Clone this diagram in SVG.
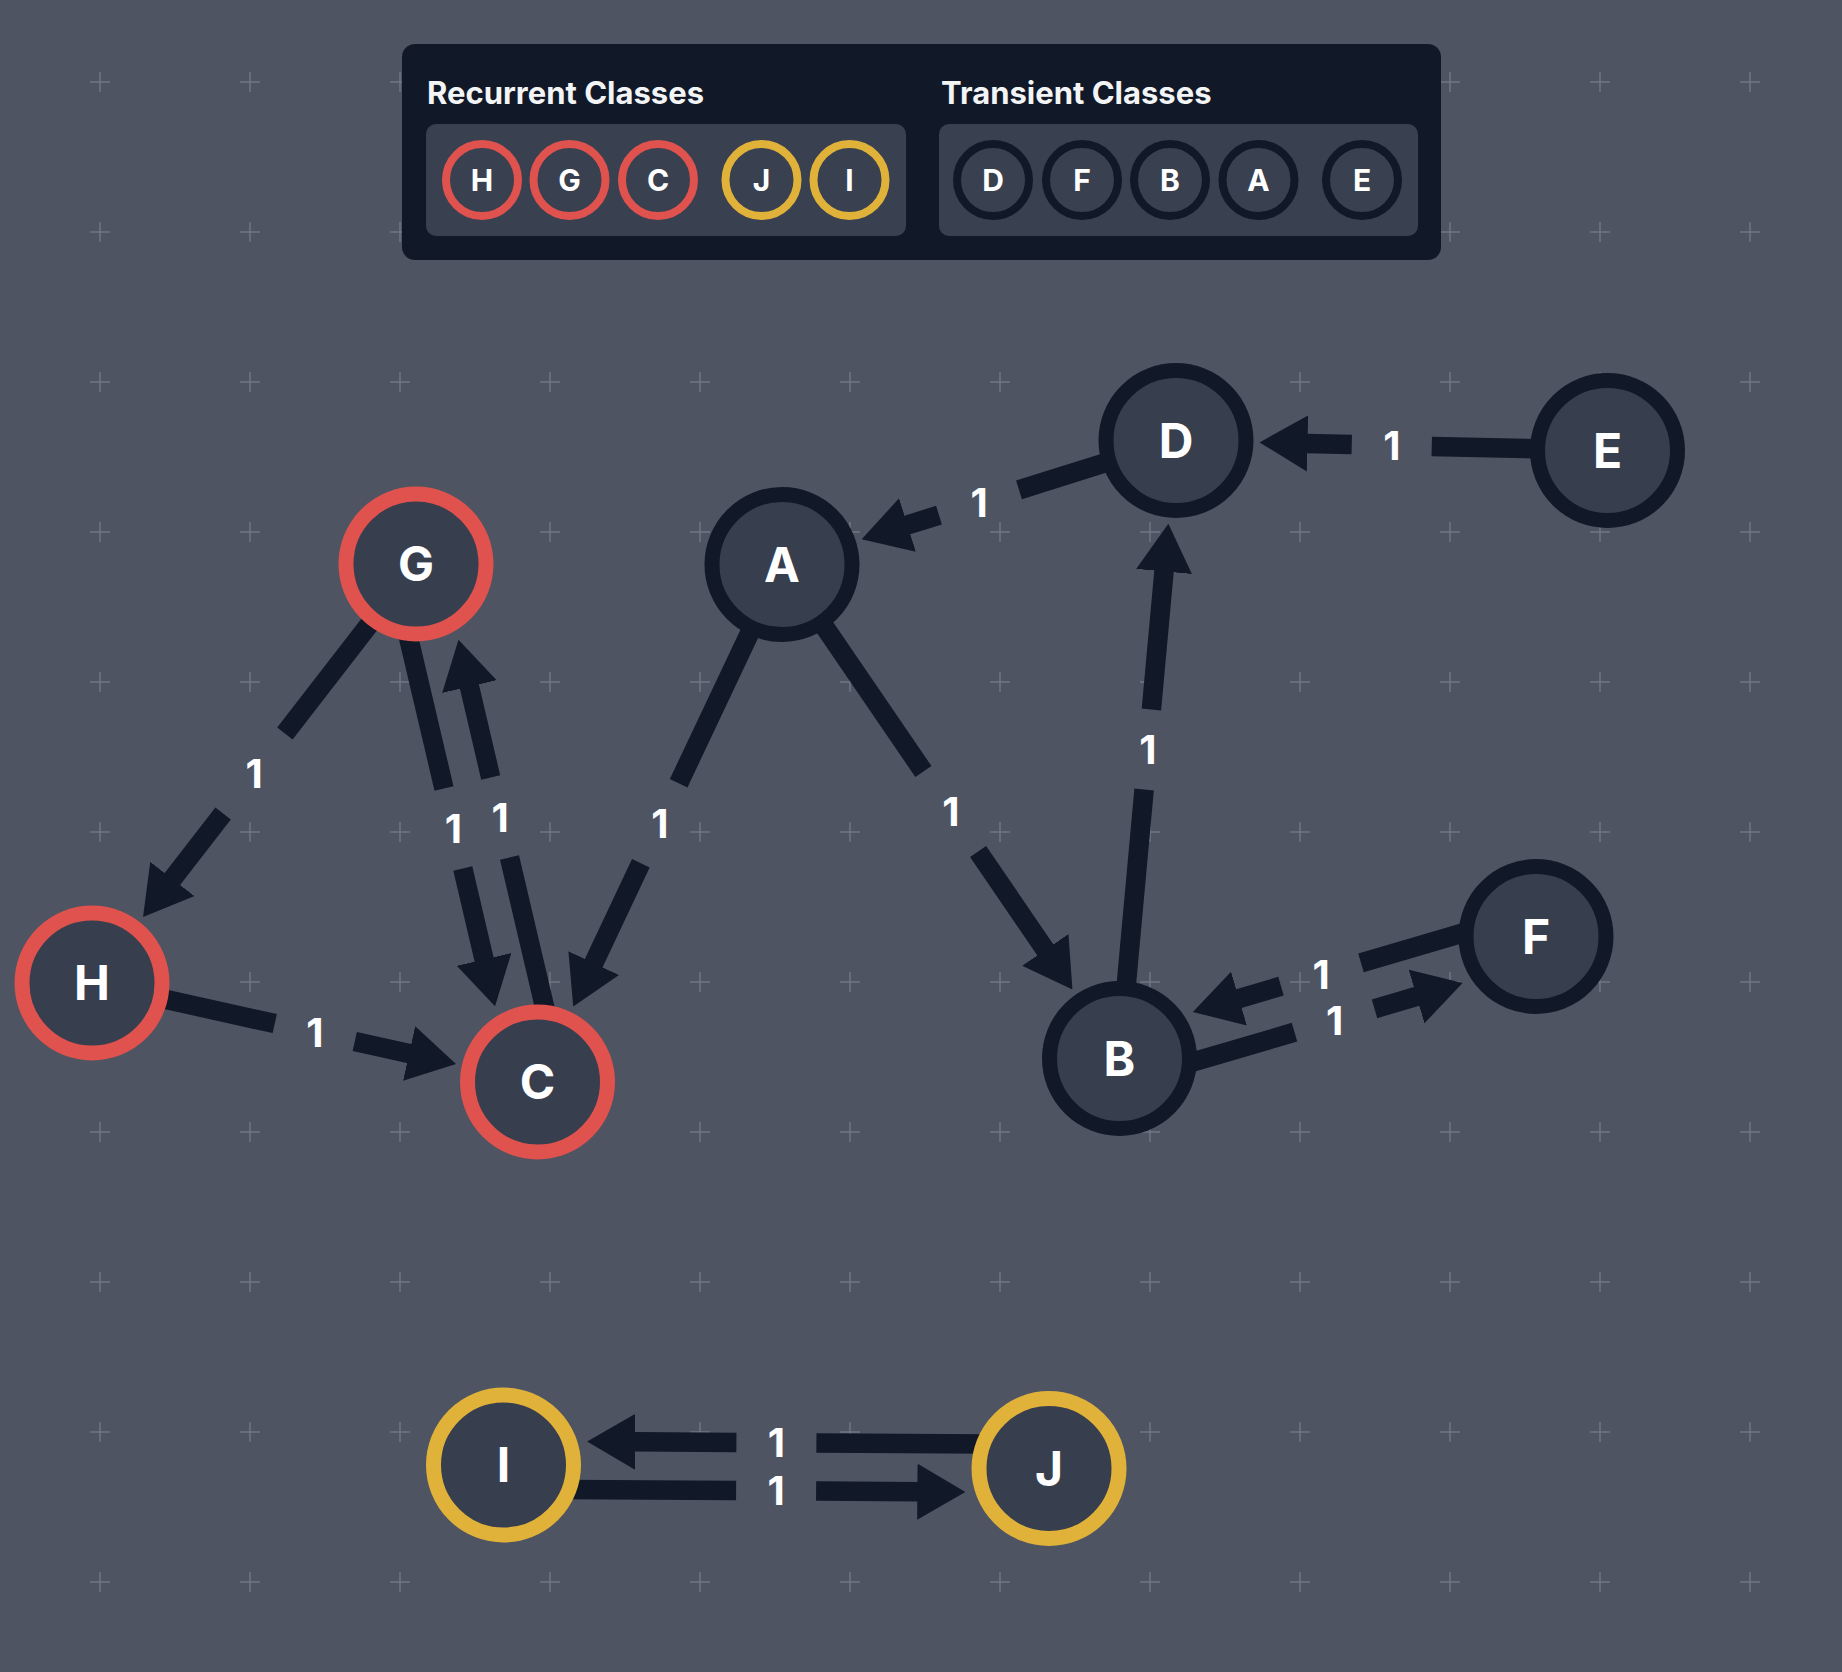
<svg xmlns="http://www.w3.org/2000/svg" width="1842" height="1672" viewBox="0 0 1842 1672">
<defs>
<style>
.bg{fill:#4e5462}
.cross{stroke:#8b919d;stroke-width:1.5;opacity:0.55}
.legend{fill:#111827}
.panel{fill:#394050}
.title{font-family:Inter,"Liberation Sans",sans-serif;font-weight:700;font-size:31px;fill:#f3f4f6}
.lc{fill:#394050;stroke-width:8}
.lt{font-family:Inter,"Liberation Sans",sans-serif;font-weight:700;font-size:30px;fill:#ffffff;text-anchor:middle}
.node{fill:#373e4e;stroke-width:15}
.rec{stroke:#e0524e}
.rec2{stroke:#e0b23a}
.tr{stroke:#111827}
.nt{font-family:Inter,"Liberation Sans",sans-serif;font-weight:700;font-size:48px;fill:#ffffff;text-anchor:middle}
.edge{fill:none;stroke:#111827;stroke-width:19.5;marker-end:url(#arr)}
.el{font-family:Inter,"Liberation Sans",sans-serif;font-weight:700;font-size:40px;fill:#ffffff;text-anchor:middle}
</style>
<marker id="arr" markerUnits="userSpaceOnUse" viewBox="0 0 48 56" markerWidth="48" markerHeight="56" refX="1" refY="28" orient="auto">
<path d="M0,0 L48,28 L0,56 Z" fill="#111827"/>
</marker>
<pattern id="grid" patternUnits="userSpaceOnUse" x="25" y="7" width="150" height="150">
<path class="cross" d="M65,75 H85 M75,65 V85"/>
</pattern>
</defs>
<rect class="bg" x="0" y="0" width="1842" height="1672"/>
<rect x="0" y="0" width="1842" height="1672" fill="url(#grid)"/>

<g id="legend">
<rect class="legend" x="402" y="44" width="1039" height="216" rx="13"/>
<text class="title" x="427" y="104">Recurrent Classes</text>
<text class="title" x="941" y="104">Transient Classes</text>
<rect class="panel" x="426" y="124" width="480" height="112" rx="10"/>
<rect class="panel" x="939" y="124" width="479" height="112" rx="10"/>
<circle class="lc rec" cx="482" cy="180" r="36"/><text class="lt" x="482" y="191">H</text>
<circle class="lc rec" cx="569.5" cy="180" r="36"/><text class="lt" x="569.5" y="191">G</text>
<circle class="lc rec" cx="658" cy="180" r="36"/><text class="lt" x="658" y="191">C</text>
<circle class="lc rec2" cx="761.5" cy="180" r="36"/><text class="lt" x="761.5" y="191">J</text>
<circle class="lc rec2" cx="849.5" cy="180" r="36"/><text class="lt" x="849.5" y="191">I</text>
<circle class="lc tr" cx="993" cy="180" r="36"/><text class="lt" x="993" y="191">D</text>
<circle class="lc tr" cx="1082" cy="180" r="36"/><text class="lt" x="1082" y="191">F</text>
<circle class="lc tr" cx="1170" cy="180" r="36"/><text class="lt" x="1170" y="191">B</text>
<circle class="lc tr" cx="1258.5" cy="180" r="36"/><text class="lt" x="1258.5" y="191">A</text>
<circle class="lc tr" cx="1362" cy="180" r="36"/><text class="lt" x="1362" y="191">E</text>
</g>

<g id="connectors">
<path class="edge" d="M379.3,611.5 L284.9,733.5 M223.1,813.5 L171.8,879.8"/>
<text class="el" x="254" y="788">1</text>
<path class="edge" d="M150.6,996 L274.75,1023.6 M354.75,1041.4 L410.1,1053.7"/>
<text class="el" x="314.75" y="1047">1</text>
<path class="edge" d="M406.3,627.9 L444,788.5 M462.8,868.5 L484.3,960.4"/>
<text class="el" x="453.4" y="843">1</text>
<path class="edge" d="M547.2,1018.1 L509.5,857.5 M490.7,777.5 L469.2,685.6"/>
<text class="el" x="500.1" y="832">1</text>
<path class="edge" d="M756.4,618.8 L678.65,783.25 M640.85,863.25 L593.3,964"/>
<text class="el" x="659.75" y="837.75">1</text>
<path class="edge" d="M815.8,614 L923.4,771.5 M978.1,851.5 L1045.9,950.7"/>
<text class="el" x="950.75" y="826">1</text>
<path class="edge" d="M1125,998.75 L1144.1,789.5 M1151.4,709.5 L1164.1,570.45"/>
<text class="el" x="1147.75" y="764">1</text>
<path class="edge" d="M1118.8,458.5 L1019,489.9 M939,515.1 L906.5,525.3"/>
<text class="el" x="979" y="517">1</text>
<path class="edge" d="M1547.5,449.1 L1431.75,446.43 M1351.75,444.57 L1306.5,443.5"/>
<text class="el" x="1391.75" y="460">1</text>
<path class="edge" d="M1183.8,1064.7 L1294.5,1032.2 M1374.5,1008.8 L1417.5,996.2"/>
<text class="el" x="1334.5" y="1035">1</text>
<path class="edge" d="M1471.7,930.3 L1361,962.8 M1281,986.2 L1238,998.8"/>
<text class="el" x="1321" y="989">1</text>
<path class="edge" d="M563.35,1489.4 L736.1,1490.5 M816.1,1491 L918.35,1491.66"/>
<text class="el" x="776.1" y="1505">1</text>
<path class="edge" d="M989.15,1444.1 L816.4,1443 M736.4,1442.5 L634.15,1441.84"/>
<text class="el" x="776.4" y="1457">1</text>
</g>

<g id="node-G"><circle class="node rec" cx="416" cy="564" r="70"/><text class="nt" x="416" y="581">G</text></g>
<g id="node-H"><circle class="node rec" cx="92" cy="983" r="70"/><text class="nt" x="92" y="1000">H</text></g>
<g id="node-C"><circle class="node rec" cx="537.5" cy="1082" r="70"/><text class="nt" x="537.5" y="1099">C</text></g>
<g id="node-A"><circle class="node tr" cx="782" cy="564.5" r="70"/><text class="nt" x="782" y="581.5">A</text></g>
<g id="node-D"><circle class="node tr" cx="1176" cy="440.5" r="70"/><text class="nt" x="1176" y="457.5">D</text></g>
<g id="node-E"><circle class="node tr" cx="1607.5" cy="450.5" r="70"/><text class="nt" x="1607.5" y="467.5">E</text></g>
<g id="node-F"><circle class="node tr" cx="1536" cy="936.5" r="70"/><text class="nt" x="1536" y="953.5">F</text></g>
<g id="node-B"><circle class="node tr" cx="1119.5" cy="1058.5" r="70"/><text class="nt" x="1119.5" y="1075.5">B</text></g>
<g id="node-I"><circle class="node rec2" cx="503.5" cy="1465" r="70"/><text class="nt" x="503.5" y="1482">I</text></g>
<g id="node-J"><circle class="node rec2" cx="1049" cy="1468.5" r="70"/><text class="nt" x="1049" y="1485.5">J</text></g>
</svg>
